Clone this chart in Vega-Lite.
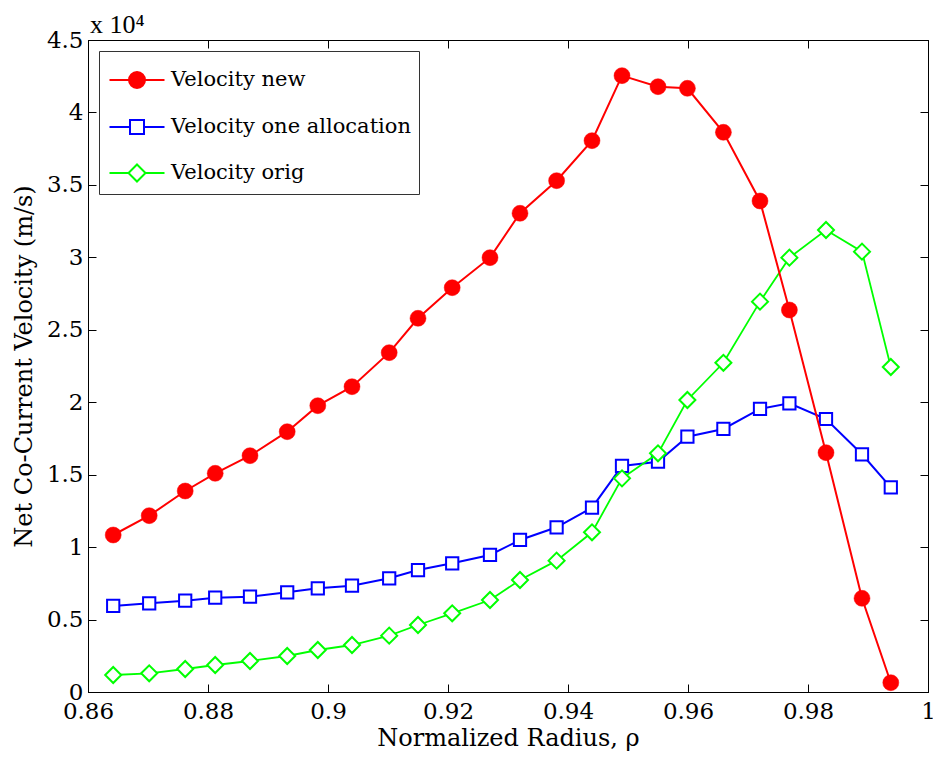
{
  "$schema": "https://vega.github.io/schema/vega-lite/v6.json",
  "width": 840,
  "height": 652,
  "autosize": {"type": "none"},
  "padding": {"left": 88, "top": 40, "right": 5, "bottom": 71},
  "background": "white",
  "config": {
    "view": {"stroke": "#000000", "strokeWidth": 1},
    "axis": {
      "grid": false,
      "domainColor": "#000000",
      "domainWidth": 1,
      "tickColor": "#000000",
      "tickWidth": 1,
      "tickSize": -8,
      "labelColor": "#000000",
      "titleColor": "#000000",
      "titleFontWeight": "normal",
      "labelFlush": false,
      "labelOverlap": false
    },
    "legend": {
      "orient": "top-left",
      "offset": 11,
      "strokeColor": "#333333",
      "fillColor": "#ffffff",
      "padding": 8,
      "symbolOffset": 9,
      "labelOffset": 13,
      "rowPadding": 14,
      "symbolSize": 1600,
      "symbolStrokeWidth": 2,
      "labelColor": "#000000",
      "labelLimit": 0
    }
  },
  "title": {
    "text": "x 10⁴",
    "anchor": "start",
    "frame": "group",
    "font": "Liberation Serif",
    "fontSize": 26,
    "fontWeight": "normal",
    "color": "#000000",
    "offset": 3,
    "dx": 2,
    "dy": 12
  },
  "data": {
    "values": [
      {"r": 0.8642, "v": 1.0836, "s": "Velocity new"},
      {"r": 0.8702, "v": 1.2170, "s": "Velocity new"},
      {"r": 0.8762, "v": 1.3873, "s": "Velocity new"},
      {"r": 0.8812, "v": 1.5094, "s": "Velocity new"},
      {"r": 0.8870, "v": 1.6310, "s": "Velocity new"},
      {"r": 0.8932, "v": 1.7966, "s": "Velocity new"},
      {"r": 0.8983, "v": 1.9760, "s": "Velocity new"},
      {"r": 0.9040, "v": 2.1072, "s": "Velocity new"},
      {"r": 0.9102, "v": 2.3420, "s": "Velocity new"},
      {"r": 0.9150, "v": 2.5793, "s": "Velocity new"},
      {"r": 0.9207, "v": 2.7905, "s": "Velocity new"},
      {"r": 0.9270, "v": 2.9977, "s": "Velocity new"},
      {"r": 0.9320, "v": 3.3040, "s": "Velocity new"},
      {"r": 0.9381, "v": 3.5290, "s": "Velocity new"},
      {"r": 0.9440, "v": 3.8052, "s": "Velocity new"},
      {"r": 0.9490, "v": 4.2540, "s": "Velocity new"},
      {"r": 0.9550, "v": 4.1778, "s": "Velocity new"},
      {"r": 0.9599, "v": 4.1667, "s": "Velocity new"},
      {"r": 0.9659, "v": 3.8630, "s": "Velocity new"},
      {"r": 0.9720, "v": 3.3890, "s": "Velocity new"},
      {"r": 0.9769, "v": 2.6366, "s": "Velocity new"},
      {"r": 0.9830, "v": 1.6517, "s": "Velocity new"},
      {"r": 0.9890, "v": 0.6467, "s": "Velocity new"},
      {"r": 0.9938, "v": 0.0642, "s": "Velocity new"},
      {"r": 0.8642, "v": 0.5936, "s": "Velocity one allocation"},
      {"r": 0.8702, "v": 0.6122, "s": "Velocity one allocation"},
      {"r": 0.8762, "v": 0.6302, "s": "Velocity one allocation"},
      {"r": 0.8812, "v": 0.6509, "s": "Velocity one allocation"},
      {"r": 0.8870, "v": 0.6578, "s": "Velocity one allocation"},
      {"r": 0.8932, "v": 0.6881, "s": "Velocity one allocation"},
      {"r": 0.8983, "v": 0.7157, "s": "Velocity one allocation"},
      {"r": 0.9040, "v": 0.7337, "s": "Velocity one allocation"},
      {"r": 0.9102, "v": 0.7848, "s": "Velocity one allocation"},
      {"r": 0.9150, "v": 0.8420, "s": "Velocity one allocation"},
      {"r": 0.9207, "v": 0.8883, "s": "Velocity one allocation"},
      {"r": 0.9270, "v": 0.9456, "s": "Velocity one allocation"},
      {"r": 0.9320, "v": 1.0491, "s": "Velocity one allocation"},
      {"r": 0.9381, "v": 1.1368, "s": "Velocity one allocation"},
      {"r": 0.9440, "v": 1.2720, "s": "Velocity one allocation"},
      {"r": 0.9490, "v": 1.5599, "s": "Velocity one allocation"},
      {"r": 0.9550, "v": 1.5895, "s": "Velocity one allocation"},
      {"r": 0.9599, "v": 1.7621, "s": "Velocity one allocation"},
      {"r": 0.9659, "v": 1.8152, "s": "Velocity one allocation"},
      {"r": 0.9720, "v": 1.9533, "s": "Velocity one allocation"},
      {"r": 0.9769, "v": 1.9926, "s": "Velocity one allocation"},
      {"r": 0.9830, "v": 1.8842, "s": "Velocity one allocation"},
      {"r": 0.9890, "v": 1.6406, "s": "Velocity one allocation"},
      {"r": 0.9938, "v": 1.4128, "s": "Velocity one allocation"},
      {"r": 0.8642, "v": 0.1173, "s": "Velocity orig"},
      {"r": 0.8702, "v": 0.1289, "s": "Velocity orig"},
      {"r": 0.8762, "v": 0.1587, "s": "Velocity orig"},
      {"r": 0.8812, "v": 0.1864, "s": "Velocity orig"},
      {"r": 0.8870, "v": 0.2140, "s": "Velocity orig"},
      {"r": 0.8932, "v": 0.2485, "s": "Velocity orig"},
      {"r": 0.8983, "v": 0.2899, "s": "Velocity orig"},
      {"r": 0.9040, "v": 0.3244, "s": "Velocity orig"},
      {"r": 0.9102, "v": 0.3888, "s": "Velocity orig"},
      {"r": 0.9150, "v": 0.4624, "s": "Velocity orig"},
      {"r": 0.9207, "v": 0.5430, "s": "Velocity orig"},
      {"r": 0.9270, "v": 0.6350, "s": "Velocity orig"},
      {"r": 0.9320, "v": 0.7730, "s": "Velocity orig"},
      {"r": 0.9381, "v": 0.9065, "s": "Velocity orig"},
      {"r": 0.9440, "v": 1.1021, "s": "Velocity orig"},
      {"r": 0.9490, "v": 1.4747, "s": "Velocity orig"},
      {"r": 0.9550, "v": 1.6474, "s": "Velocity orig"},
      {"r": 0.9599, "v": 2.0154, "s": "Velocity orig"},
      {"r": 0.9659, "v": 2.2720, "s": "Velocity orig"},
      {"r": 0.9720, "v": 2.6942, "s": "Velocity orig"},
      {"r": 0.9769, "v": 2.9977, "s": "Velocity orig"},
      {"r": 0.9830, "v": 3.1887, "s": "Velocity orig"},
      {"r": 0.9890, "v": 3.0392, "s": "Velocity orig"},
      {"r": 0.9938, "v": 2.2432, "s": "Velocity orig"}
    ]
  },
  "layer": [
    {
      "transform": [{"filter": "datum.s === 'Velocity one allocation'"}],
      "mark": {"type": "line", "color": "#0000ff", "strokeWidth": 2},
      "encoding": {
        "x": {
          "field": "r", "type": "quantitative",
          "scale": {"domain": [0.86, 1], "nice": false, "zero": false},
          "axis": {
            "values": [0.86, 0.88, 0.9, 0.92, 0.94, 0.96, 0.98, 1],
            "format": "~g",
            "title": "Normalized Radius, ρ",
            "labelFont": "DejaVu Serif",
            "titleFont": "DejaVu Serif",
            "labelFontSize": 23,
            "titleFontSize": 24,
            "labelPadding": 16,
            "titlePadding": 3
          }
        },
        "y": {
          "field": "v", "type": "quantitative",
          "scale": {"domain": [0, 4.5], "nice": false, "zero": true},
          "axis": {
            "values": [0, 0.5, 1, 1.5, 2, 2.5, 3, 3.5, 4, 4.5],
            "format": "~g",
            "title": "Net Co-Current Velocity (m/s)",
            "labelFont": "DejaVu Serif",
            "titleFont": "DejaVu Serif",
            "labelFontSize": 23,
            "titleFontSize": 24,
            "labelPadding": 13,
            "titlePadding": 10
          }
        }
      }
    },
    {
      "transform": [{"filter": "datum.s === 'Velocity one allocation'"}],
      "mark": {"type": "point", "shape": "square", "filled": true, "fill": "#ffffff", "stroke": "#0000ff", "strokeWidth": 2, "size": 150, "opacity": 1},
      "encoding": {
        "x": {"field": "r", "type": "quantitative", "axis": null},
        "y": {"field": "v", "type": "quantitative", "axis": null}
      }
    },
    {
      "transform": [{"filter": "datum.s === 'Velocity orig'"}],
      "mark": {"type": "line", "color": "#00ff00", "strokeWidth": 1.8},
      "encoding": {
        "x": {"field": "r", "type": "quantitative", "axis": null},
        "y": {"field": "v", "type": "quantitative", "axis": null}
      }
    },
    {
      "transform": [{"filter": "datum.s === 'Velocity orig'"}],
      "mark": {"type": "point", "shape": "diamond", "filled": true, "fill": "#ffffff", "stroke": "#00ff00", "strokeWidth": 2, "size": 256, "opacity": 1},
      "encoding": {
        "x": {"field": "r", "type": "quantitative", "axis": null},
        "y": {"field": "v", "type": "quantitative", "axis": null}
      }
    },
    {
      "transform": [{"filter": "datum.s === 'Velocity new'"}],
      "mark": {"type": "line", "color": "#ff0000", "strokeWidth": 2},
      "encoding": {
        "x": {
          "field": "r", "type": "quantitative",
          "axis": {"orient": "top", "values": [0.86, 0.88, 0.9, 0.92, 0.94, 0.96, 0.98, 1], "labels": false, "title": null}
        },
        "y": {
          "field": "v", "type": "quantitative",
          "axis": {"orient": "right", "values": [0, 0.5, 1, 1.5, 2, 2.5, 3, 3.5, 4, 4.5], "labels": false, "title": null}
        }
      }
    },
    {
      "transform": [{"filter": "datum.s === 'Velocity new'"}],
      "mark": {"type": "point", "shape": "circle", "filled": true, "fill": "#ff0000", "stroke": "#ff0000", "strokeWidth": 0.5, "size": 256, "opacity": 1},
      "encoding": {
        "x": {"field": "r", "type": "quantitative", "axis": null},
        "y": {"field": "v", "type": "quantitative", "axis": null}
      }
    },
    {
      "transform": [{"filter": "false"}],
      "mark": {"type": "point", "filled": false, "strokeWidth": 2, "opacity": 1},
      "encoding": {
        "x": {"field": "r", "type": "quantitative", "axis": null},
        "y": {"field": "v", "type": "quantitative", "axis": null},
        "shape": {
          "field": "s", "type": "nominal",
          "scale": {
            "domain": ["Velocity new", "Velocity one allocation", "Velocity orig"],
            "range": [
              "M-1.375,0H1.375M0.4,0A0.4,0.4,0,1,1,-0.4,0A0.4,0.4,0,1,1,0.4,0Z",
              "M-1.375,0H-0.35M0.35,0H1.375M-0.35,-0.35H0.35V0.35H-0.35Z",
              "M-1.375,0H-0.425M0.425,0H1.375M0,-0.425L0.425,0L0,0.425L-0.425,0Z"
            ]
          },
          "legend": {"title": null, "labelFont": "DejaVu Serif", "labelFontSize": 21}
        },
        "stroke": {
          "field": "s", "type": "nominal",
          "scale": {
            "domain": ["Velocity new", "Velocity one allocation", "Velocity orig"],
            "range": ["#ff0000", "#0000ff", "#00ff00"]
          },
          "legend": {"title": null, "labelFont": "DejaVu Serif", "labelFontSize": 21}
        },
        "fill": {
          "field": "s", "type": "nominal",
          "scale": {
            "domain": ["Velocity new", "Velocity one allocation", "Velocity orig"],
            "range": ["#ff0000", "#ffffff", "#ffffff"]
          },
          "legend": {"title": null, "labelFont": "DejaVu Serif", "labelFontSize": 21}
        }
      }
    }
  ],
  "resolve": {"axis": {"x": "independent", "y": "independent"}}
}
